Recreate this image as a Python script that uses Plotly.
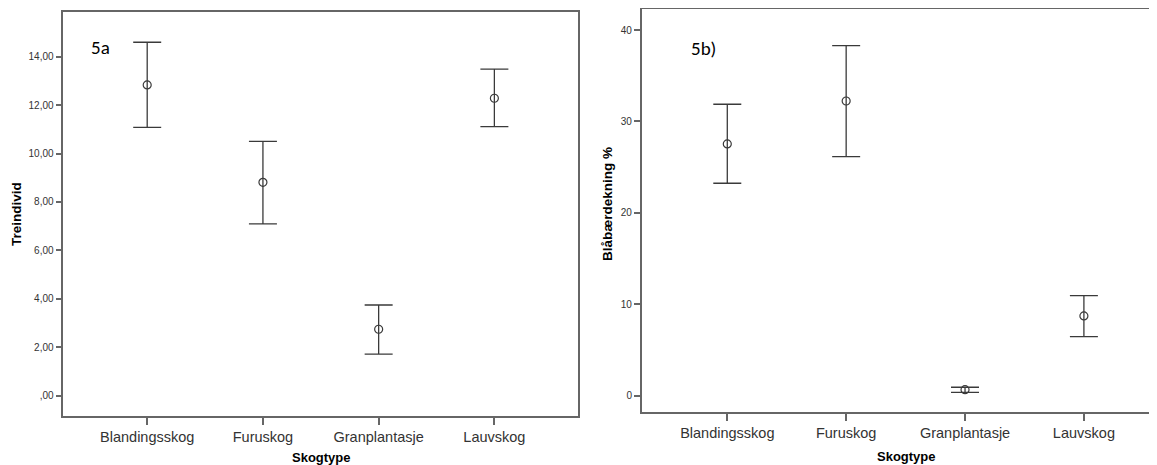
import plotly.graph_objects as go

categories = ["Blandingsskog", "Furuskog", "Granplantasje", "Lauvskog"]

# Panel 5a: Treindivid (mean with upper/lower CI)
tre_mean = [12.83, 8.81, 2.75, 12.28]
tre_upper = [14.59, 10.50, 3.75, 13.48]
tre_lower = [11.08, 7.10, 1.72, 11.11]
tre_ticks = [0, 2, 4, 6, 8, 10, 12, 14]
tre_ticktext = [",00", "2,00", "4,00", "6,00", "8,00", "10,00", "12,00", "14,00"]

# Panel 5b: Blåbærdekning %
bla_mean = [27.54, 32.24, 0.66, 8.72]
bla_upper = [31.88, 38.29, 0.92, 10.94]
bla_lower = [23.24, 26.15, 0.37, 6.46]
bla_ticks = [0, 10, 20, 30, 40]

OX, OY = 8, 8            # page body margin offset
W, H = 1157 - OX, 465 - OY
FONT = "Liberation Sans, Arial, sans-serif"
ERR_COL = "#3a3a3a"
AX_COL = "#666666"

def err(mean, up, lo):
    return dict(type="data", symmetric=False,
                array=[u - m for u, m in zip(up, mean)],
                arrayminus=[m - l for m, l in zip(mean, lo)],
                color=ERR_COL, thickness=1.3, width=14)

fig = go.Figure()
fig.add_trace(go.Scatter(x=list(range(4)), y=tre_mean, mode="markers",
                         marker=dict(symbol="circle-open", size=8, color=ERR_COL, line=dict(width=1.2)),
                         error_y=err(tre_mean, tre_upper, tre_lower),
                         xaxis="x", yaxis="y", showlegend=False))
fig.add_trace(go.Scatter(x=list(range(4)), y=bla_mean, mode="markers",
                         marker=dict(symbol="circle-open", size=8, color=ERR_COL, line=dict(width=1.2)),
                         error_y=err(bla_mean, bla_upper, bla_lower),
                         xaxis="x2", yaxis="y2", showlegend=False))

def px(x): return (x - OX) / W
def py(y): return 1 - (y - OY) / H

xcommon = dict(tickmode="array", tickvals=list(range(4)), ticktext=categories,
               ticks="outside", ticklen=7, tickcolor=AX_COL, tickwidth=1.5,
               showgrid=False, zeroline=False, showline=True, linecolor=AX_COL, linewidth=1.5,
               tickfont=dict(family=FONT, size=14.5, color="#333333"))
ycommon = dict(ticks="outside", ticklen=6, tickcolor=AX_COL, tickwidth=1.5,
               showgrid=False, zeroline=False, showline=True, linecolor=AX_COL, linewidth=1.5,
               tickfont=dict(family=FONT, size=10, color="#333333"), tickmode="array")

fig.update_layout(
    width=W, height=H, margin=dict(l=0, r=0, t=0, b=0),
    paper_bgcolor="white", plot_bgcolor="white",
    xaxis=dict(xcommon, domain=[px(63.3), px(577.7)], range=[-0.725, 3.72], anchor="y", mirror=True),
    yaxis=dict(ycommon, domain=[py(416), py(11.7)], range=[-0.83, 15.85], anchor="x",
               tickvals=tre_ticks, ticktext=tre_ticktext, mirror=True),
    xaxis2=dict(xcommon, domain=[px(641.7), 1.0], range=[-0.72, 3.615], anchor="y2", mirror=True),
    yaxis2=dict(ycommon, domain=[py(412.3), py(9.3)], range=[-1.82, 42.27], anchor="x2",
                tickvals=bla_ticks, ticktext=[str(t) for t in bla_ticks], mirror=False),
    annotations=[
        dict(text="5a", x=px(89), y=py(47), xref="paper", yref="paper", xanchor="left", yanchor="middle",
             showarrow=False, font=dict(family="Carlito, Open Sans, sans-serif", size=19, color="black")),
        dict(text="5b)", x=px(689), y=py(49), xref="paper", yref="paper", xanchor="left", yanchor="middle",
             showarrow=False, font=dict(family="Carlito, Open Sans, sans-serif", size=19, color="black")),
        dict(text="<b>Treindivid</b>", x=px(16), y=py(214), xref="paper", yref="paper", textangle=-90,
             xanchor="center", yanchor="middle", showarrow=False, font=dict(family=FONT, size=13.5, color="black")),
        dict(text="<b>Blåbærdekning %</b>", x=px(608), y=py(204), xref="paper", yref="paper", textangle=-90,
             xanchor="center", yanchor="middle", showarrow=False, font=dict(family=FONT, size=13.5, color="black")),
        dict(text="<b>Skogtype</b>", x=px(321), y=py(457), xref="paper", yref="paper",
             xanchor="center", yanchor="middle", showarrow=False, font=dict(family=FONT, size=13, color="black")),
        dict(text="<b>Skogtype</b>", x=px(906), y=py(456), xref="paper", yref="paper",
             xanchor="center", yanchor="middle", showarrow=False, font=dict(family=FONT, size=13, color="black")),
    ],
)

fig.write_html("out.html")
